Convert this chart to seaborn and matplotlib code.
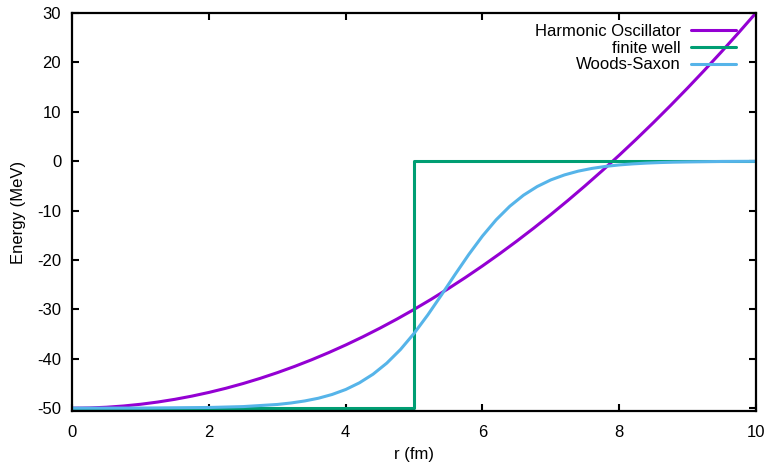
import numpy as np
import matplotlib
matplotlib.use("Agg")
import matplotlib.pyplot as plt
import seaborn as sns
import pandas as pd

# values
r_ho = [0, 0.25, 0.5, 0.75, 1, 1.25, 1.5, 1.75, 2, 2.25, 2.5, 2.75, 3, 3.25,
        3.5, 3.75, 4, 4.25, 4.5, 4.75, 5, 5.25, 5.5, 5.75, 6, 6.25, 6.5, 6.75,
        7, 7.25, 7.5, 7.75, 8, 8.25, 8.5, 8.75, 9, 9.25, 9.5, 9.75, 10]
v_ho = [-50, -49.95, -49.8, -49.55, -49.2, -48.75, -48.2, -47.55, -46.8,
        -45.95, -45, -43.95, -42.8, -41.55, -40.2, -38.75, -37.2, -35.55,
        -33.8, -31.95, -30, -27.95, -25.8, -23.55, -21.2, -18.75, -16.2,
        -13.55, -10.8, -7.95, -5, -1.95, 1.2, 4.45, 7.8, 11.25, 14.8, 18.45,
        22.2, 26.05, 30]

r_well = [0, 5, 5, 10]
v_well = [-50, -50, 0, 0]

r_ws = [0, 1, 2, 2.5, 3, 3.2, 3.4, 3.6, 3.8, 4, 4.2, 4.4, 4.6, 4.8, 5, 5.2,
        5.4, 5.6, 5.8, 6, 6.2, 6.4, 6.6, 6.8, 7, 7.2, 7.4, 7.6, 7.8, 8, 8.2,
        8.4, 8.6, 8.8, 9, 9.5, 10]
v_ws = [-49.99, -49.97, -49.85, -49.67, -49.24, -48.94, -48.53, -47.98,
        -47.22, -46.21, -44.86, -43.11, -40.88, -38.13, -34.85, -31.12,
        -27.08, -22.92, -18.88, -15.15, -11.87, -9.12, -6.89, -5.14, -3.79,
        -2.78, -2.02, -1.47, -1.06, -0.76, -0.55, -0.39, -0.28, -0.20, -0.15,
        -0.06, -0.03]

sns.set_style("ticks")
plt.rcParams['font.family'] = ['Liberation Sans', 'DejaVu Sans']
plt.rcParams['axes.unicode_minus'] = False
plt.rcParams['text.color'] = 'black'
plt.rcParams['axes.labelcolor'] = 'black'
fs = 12

fig = plt.figure(figsize=(7.69, 4.62), dpi=100)
ax = fig.add_axes([0.094, 0.110, 0.889, 0.862])

sns.lineplot(x=r_ho, y=v_ho, ax=ax, color='#9400d3', lw=2.2,
             label='Harmonic Oscillator', estimator=None, sort=False)
sns.lineplot(x=r_well, y=v_well, ax=ax, color='#009e73', lw=2.2,
             label='finite well', estimator=None, sort=False)
sns.lineplot(x=r_ws, y=v_ws, ax=ax, color='#56b4e9', lw=2.2,
             label='Woods-Saxon', estimator=None, sort=False)

ax.set_xlim(0, 10)
ax.set_ylim(-50.6, 30)
ax.set_xticks(np.arange(0, 11, 2))
ax.set_yticks(np.arange(-50, 31, 10))
ax.tick_params(direction='in', top=True, right=True, length=5, width=1.5,
               labelsize=fs, colors='black')
ax.tick_params(axis='x', pad=10)
ax.tick_params(axis='y', pad=8)
for s in ax.spines.values():
    s.set_linewidth(1.6)
    s.set_color('black')
ax.set_xlabel('r (fm)', fontsize=fs, labelpad=5)
ax.set_ylabel('Energy (MeV)', fontsize=fs, labelpad=8)

ax.legend(loc='upper right', bbox_to_anchor=(0.984, 0.995), frameon=False,
          markerfirst=False, fontsize=fs, handlelength=2.7, labelspacing=0.1,
          handletextpad=0.6, borderaxespad=0.25, borderpad=0.3)

fig.savefig('out.png', dpi=100)
